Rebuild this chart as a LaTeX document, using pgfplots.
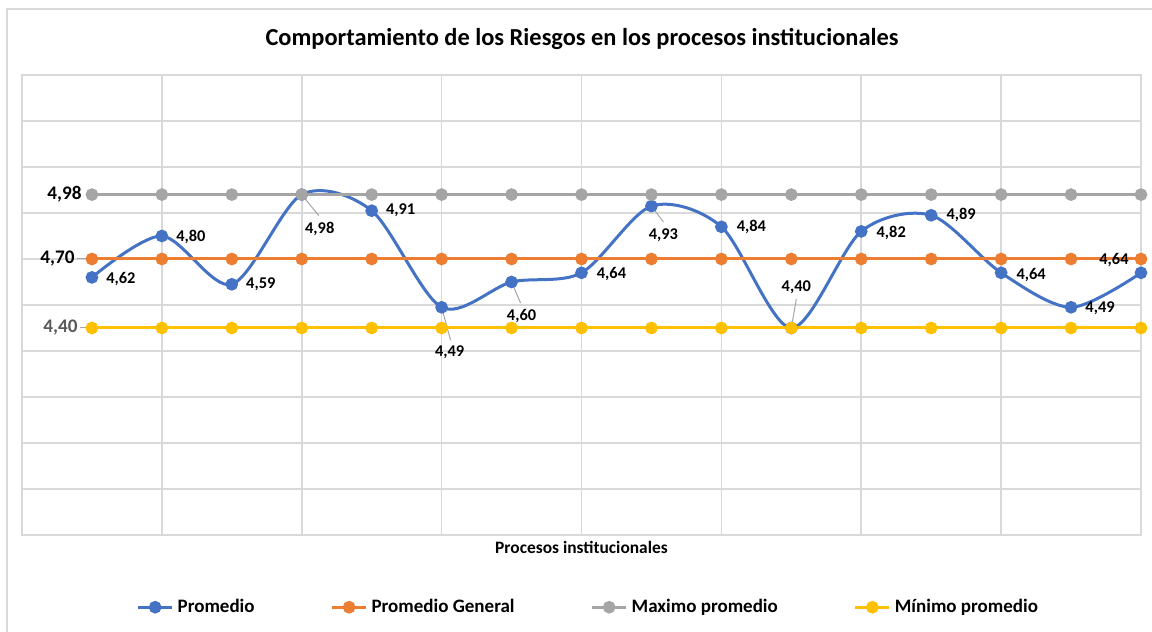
\documentclass[border=0pt]{standalone}
\usepackage{pgfplots}
\pgfplotsset{compat=1.18}
\usepackage{fontspec}
\setmainfont{Carlito}
\definecolor{cblue}{HTML}{4472C4}
\definecolor{corange}{HTML}{ED7D31}
\definecolor{cgray}{HTML}{A5A5A5}
\definecolor{cyellow}{HTML}{FFC000}
\definecolor{gridgray}{HTML}{D9D9D9}
\definecolor{labgray}{HTML}{595959}
\begin{document}
\begin{tikzpicture}
\path[use as bounding box] (0,0) rectangle (576pt,316pt);
\draw[gridgray,line width=0.8pt] (3.5pt,0) -- (3.5pt,311.5pt) -- (576pt,311.5pt);
\node[font=\bfseries\fontsize{12.2}{14}\selectfont] at (291pt,296.5pt) {Comportamiento de los Riesgos en los procesos institucionales};
\begin{axis}[
  at={(11pt,48.5pt)}, anchor=south west,
  scale only axis, width=559.5pt, height=230pt,
  xmin=-1, xmax=15, ymin=3.5, ymax=5.5,
  xtick={-1,1,3,5,7,9,11,13,15},
  ytick={3.5,3.7,3.9,4.1,4.3,4.5,4.7,4.9,5.1,5.3,5.5},
  xticklabels={}, yticklabels={},
  grid=major,
  major grid style={draw=gridgray, line width=0.8pt},
  axis line style={draw=gridgray, line width=0.8pt},
  tick style={draw=none},
  clip=false,
  xlabel={Procesos institucionales},
  xlabel style={at={(axis description cs:0.5,-0.028)}, anchor=center, font=\bfseries\fontsize{8.7}{10}\selectfont},
  legend columns=4,
  legend style={at={(0.507,-0.157)}, anchor=center, draw=none, fill=none,
    font=\bfseries\fontsize{9.5}{11}\selectfont,
    /tikz/every even column/.append style={column sep=36pt},
    /tikz/every odd column/.append style={column sep=0pt}},
  legend image code/.code={\draw[mark repeat=2,mark phase=2,#1] plot coordinates {(0pt,0pt) (8.5pt,0pt) (17pt,0pt)};},
  every axis plot/.append style={line width=1.5pt, mark=*, mark size=2.4pt},
]
\addplot[cblue, smooth, tension=0.5, mark options={fill=cblue, draw=cblue}] coordinates {
(0,4.62) (1,4.80) (2,4.59) (3,4.98) (4,4.91) (5,4.49) (6,4.60) (7,4.64)
(8,4.93) (9,4.84) (10,4.40) (11,4.82) (12,4.89) (13,4.64) (14,4.49) (15,4.64)};
\addlegendentry{Promedio}
\addplot[corange, mark options={fill=corange, draw=corange}] coordinates {
(0,4.70) (1,4.70) (2,4.70) (3,4.70) (4,4.70) (5,4.70) (6,4.70) (7,4.70)
(8,4.70) (9,4.70) (10,4.70) (11,4.70) (12,4.70) (13,4.70) (14,4.70) (15,4.70)};
\addlegendentry{Promedio General}
\addplot[cgray, mark options={fill=cgray, draw=cgray}] coordinates {
(0,4.98) (1,4.98) (2,4.98) (3,4.98) (4,4.98) (5,4.98) (6,4.98) (7,4.98)
(8,4.98) (9,4.98) (10,4.98) (11,4.98) (12,4.98) (13,4.98) (14,4.98) (15,4.98)};
\addlegendentry{Maximo promedio}
\addplot[cyellow, mark options={fill=cyellow, draw=cyellow}] coordinates {
(0,4.40) (1,4.40) (2,4.40) (3,4.40) (4,4.40) (5,4.40) (6,4.40) (7,4.40)
(8,4.40) (9,4.40) (10,4.40) (11,4.40) (12,4.40) (13,4.40) (14,4.40) (15,4.40)};
\addlegendentry{Mínimo promedio}

% left labels of the reference lines
\draw[cgray, line width=0.5pt] ([xshift=-7.5pt]axis cs:0,4.70) -- ([xshift=-2.5pt]axis cs:0,4.70);
\draw[cgray, line width=0.5pt] ([xshift=-6pt]axis cs:0,4.40) -- ([xshift=-2.5pt]axis cs:0,4.40);
\node[anchor=east, inner sep=0pt, font=\bfseries\fontsize{9.6}{11}\selectfont] at ([xshift=-5pt]axis cs:0,4.98) {4,98};
\node[anchor=east, inner sep=0pt, font=\bfseries\fontsize{9.6}{11}\selectfont] at ([xshift=-8.5pt]axis cs:0,4.70) {4,70};
\node[anchor=east, inner sep=0pt, text=labgray, font=\bfseries\fontsize{9.6}{11}\selectfont] at ([xshift=-7pt]axis cs:0,4.40) {4,40};

% data labels of Promedio
\tikzset{dl/.style={font=\bfseries\fontsize{8.2}{9.5}\selectfont, inner sep=0pt}}
\node[dl, anchor=west] at ([xshift=7pt,yshift=-0.7pt]axis cs:0,4.62) {4,62};
\node[dl, anchor=west] at ([xshift=7pt,yshift=-0.5pt]axis cs:1,4.80) {4,80};
\node[dl, anchor=west] at ([xshift=7pt]axis cs:2,4.59) {4,59};
\draw[cgray, line width=0.5pt] (axis cs:3,4.98) -- ([xshift=8.5pt,yshift=-10.5pt]axis cs:3,4.98);
\node[dl] at ([xshift=9pt,yshift=-17pt]axis cs:3,4.98) {4,98};
\node[dl, anchor=west] at ([xshift=7pt]axis cs:4,4.91) {4,91};
\draw[cgray, line width=0.5pt] (axis cs:5,4.49) -- ([xshift=4.5pt,yshift=-16.5pt]axis cs:5,4.49);
\node[dl] at ([xshift=4pt,yshift=-22.5pt]axis cs:5,4.49) {4,49};
\draw[cgray, line width=0.5pt] (axis cs:6,4.60) -- ([xshift=4.5pt,yshift=-10.5pt]axis cs:6,4.60);
\node[dl] at ([xshift=5pt,yshift=-17pt]axis cs:6,4.60) {4,60};
\node[dl, anchor=west] at ([xshift=7.5pt,yshift=-0.5pt]axis cs:7,4.64) {4,64};
\draw[cgray, line width=0.5pt] (axis cs:8,4.93) -- ([xshift=6pt,yshift=-8pt]axis cs:8,4.93);
\node[dl] at ([xshift=6pt,yshift=-14.5pt]axis cs:8,4.93) {4,93};
\node[dl, anchor=west] at ([xshift=7.5pt]axis cs:9,4.84) {4,84};
\draw[cgray, line width=0.5pt] (axis cs:10,4.40) -- ([xshift=2.5pt,yshift=14.5pt]axis cs:10,4.40);
\node[dl] at ([xshift=2.5pt,yshift=20.5pt]axis cs:10,4.40) {4,40};
\node[dl, anchor=west] at ([xshift=7.5pt,yshift=-1pt]axis cs:11,4.82) {4,82};
\node[dl, anchor=west] at ([xshift=7.5pt]axis cs:12,4.89) {4,89};
\node[dl, anchor=west] at ([xshift=7.5pt,yshift=-1pt]axis cs:13,4.64) {4,64};
\node[dl, anchor=west] at ([xshift=7pt,yshift=-0.5pt]axis cs:14,4.49) {4,49};
\node[dl] at ([xshift=-13.5pt,yshift=6.5pt]axis cs:15,4.64) {4,64};
\end{axis}
\end{tikzpicture}
\end{document}
